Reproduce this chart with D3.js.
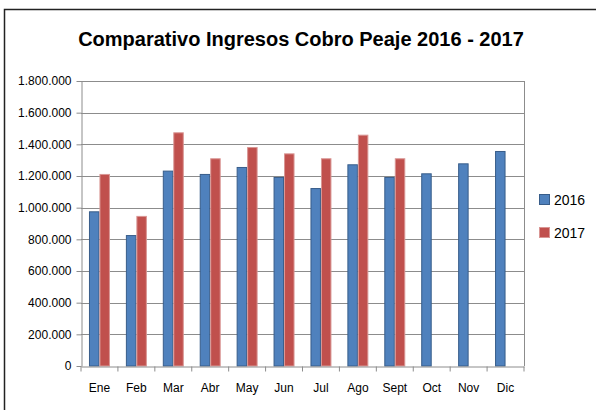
<!DOCTYPE html>
<html>
<head>
<meta charset="utf-8">
<script src="https://cdn.jsdelivr.net/npm/d3@7"></script>
<style>
  body { margin: 0; background: #fff; }
  svg { display: block; }
  text { font-family: "Liberation Sans", Arial, sans-serif; }
</style>
</head>
<body>
<div id="chart"></div>
<script>
(function() {

  // ----------
  var months = ['Ene', 'Feb', 'Mar', 'Abr', 'May', 'Jun', 'Jul', 'Ago', 'Sept', 'Oct', 'Nov', 'Dic'];
  var values2016 = [977000, 827000, 1234000, 1213000, 1257000, 1194000, 1124000, 1274000, 1194000, 1217000, 1280000, 1358000];
  var values2017 = [1213000, 948000, 1476000, 1312000, 1383000, 1343000, 1312000, 1461000, 1312000, null, null, null];
  var yTicks = [0, 200000, 400000, 600000, 800000, 1000000, 1200000, 1400000, 1600000, 1800000];
  var seriesNames = ['2016', '2017'];

  var width = 596, height = 410;
  var margin = { left: 81, right: 72, top: 81, bottom: 44 };

  var svg = d3.select('#chart').append('svg')
    .attr('width', width)
    .attr('height', height);

  // outer chart border (only top and left are visible in the frame)
  svg.append('path')
    .attr('d', 'M4.5,' + height + 'V9.5H' + width)
    .style('fill', 'none')
    .style('stroke', '#222')
    .style('stroke-width', 1.5);

  svg.append('text')
    .attr('x', 301)
    .attr('y', 46)
    .attr('text-anchor', 'middle')
    .style('font-size', '20px')
    .style('font-weight', 'bold')
    .text('Comparativo Ingresos Cobro Peaje 2016 - 2017');

  var x = d3.scaleBand()
    .domain(months)
    .range([margin.left, width - margin.right]);

  var xInner = d3.scaleBand()
    .domain(seriesNames)
    .range([0, x.bandwidth()])
    .paddingInner(0)
    .paddingOuter(0.76);

  var y = d3.scaleLinear()
    .domain([0, 1800000])
    .range([height - margin.bottom, margin.top]);

  var fmt = function(d) {
    return d3.format(',')(d).replace(/,/g, '.');
  };

  // gridlines
  svg.append('g')
    .selectAll('line')
    .data(yTicks.slice(1))
    .join('line')
    .attr('x1', margin.left)
    .attr('x2', width - margin.right)
    .attr('y1', function(d) { return Math.round(y(d)) + 0.5; })
    .attr('y2', function(d) { return Math.round(y(d)) + 0.5; })
    .style('stroke', '#8c8c8c')
    .style('stroke-width', 1);

  // right border of the plot area
  svg.append('line')
    .attr('x1', width - margin.right + 0.5)
    .attr('x2', width - margin.right + 0.5)
    .attr('y1', margin.top)
    .attr('y2', height - margin.bottom)
    .style('stroke', '#8c8c8c');

  // bars
  var series = [
    { name: '2016', values: values2016, fill: '#4f81bd', stroke: '#385d8a' },
    { name: '2017', values: values2017, fill: '#c0504d', stroke: '#d99694' }
  ];

  series.forEach(function(s) {
    svg.append('g')
      .selectAll('rect')
      .data(months.map(function(m, i) { return { month: m, value: s.values[i] }; })
        .filter(function(d) { return d.value != null; }))
      .join('rect')
      .attr('x', function(d) { return x(d.month) + xInner(s.name) + 0.5; })
      .attr('y', function(d) { return y(d.value) + 0.5; })
      .attr('width', xInner.bandwidth() - 1)
      .attr('height', function(d) { return y(0) - y(d.value) - 0.5; })
      .style('fill', s.fill)
      .style('stroke', s.stroke)
      .style('stroke-width', 1);
  });

  // y axis
  var yAxis = svg.append('g')
    .attr('transform', 'translate(' + (margin.left + 0.5) + ',0)')
    .call(d3.axisLeft(y).tickValues(yTicks).tickFormat(fmt).tickSize(5).tickSizeOuter(0));

  // x axis
  var xAxis = svg.append('g')
    .attr('transform', 'translate(0,' + (Math.round(y(0)) + 0.5) + ')')
    .call(d3.axisBottom(x).tickSize(0).tickSizeOuter(0));

  xAxis.selectAll('.tick text').attr('dy', '1.85em');

  xAxis.selectAll('.boundary')
    .data(d3.range(months.length + 1))
    .join('line')
    .attr('class', 'boundary')
    .attr('x1', function(i) { return margin.left + i * x.step(); })
    .attr('x2', function(i) { return margin.left + i * x.step(); })
    .attr('y1', 0)
    .attr('y2', 5);

  [yAxis, xAxis].forEach(function(ax) {
    ax.selectAll('path, line').style('stroke', '#8c8c8c');
    ax.selectAll('text')
      .style('font-family', '"Liberation Sans", Arial, sans-serif')
      .style('font-size', '12px')
      .style('fill', '#000');
  });

  yAxis.selectAll('.tick text').attr('x', -10);

  // legend
  var legend = svg.append('g')
    .selectAll('g')
    .data(series)
    .join('g')
    .attr('transform', function(d, i) { return 'translate(539,' + (194 + i * 33) + ')'; });

  legend.append('rect')
    .attr('x', 0.5)
    .attr('y', 0.5)
    .attr('width', 10)
    .attr('height', 10)
    .style('fill', function(d) { return d.fill; })
    .style('stroke', function(d) { return d.stroke; });

  legend.append('text')
    .attr('x', 15)
    .attr('y', 10.5)
    .style('font-size', '14px')
    .text(function(d) { return d.name; });

})();
</script>
</body>
</html>
